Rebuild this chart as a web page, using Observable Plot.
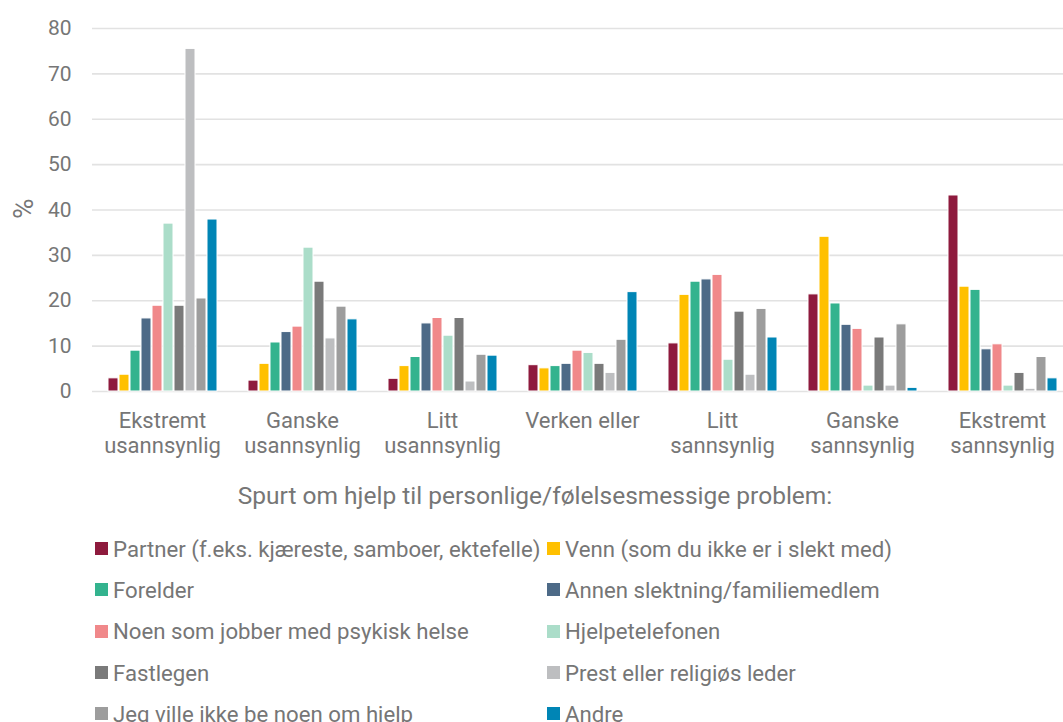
<!DOCTYPE html>
<html lang="no">
<head>
<meta charset="utf-8">
<script src="https://cdn.jsdelivr.net/npm/d3@7"></script>
<script src="https://cdn.jsdelivr.net/npm/@observablehq/plot@0.6"></script>
<style>
  html, body { margin: 0; padding: 0; background: #fff; overflow: hidden; }
  body { width: 1063px; height: 722px; position: relative; font-family: Roboto, "Noto Sans", sans-serif; color: #767676; }
  #chart { position: absolute; left: 0; top: 0; }
  #chart svg { max-width: none !important; }
  #title { position: absolute; left: 0; width: 1070px; top: 481px; text-align: center; font-size: 24.5px; }
  #legend { position: absolute; left: 95px; top: 528px; display: grid; grid-template-columns: 452px 500px; grid-auto-rows: 41.3px; font-size: 22.2px; }
  .item { display: flex; align-items: center; white-space: nowrap; height: 41.3px; }
  .sw { width: 13px; height: 13px; margin-right: 5px; flex: none; }
</style>
</head>
<body>
<div id="chart"></div>
<div id="title">Spurt om hjelp til personlige/følelsesmessige problem:</div>
<div id="legend"></div>
<script>
// Answer categories along the x axis (line breaks as shown under each group)
const groups = [
  "Ekstremt\nusannsynlig",
  "Ganske\nusannsynlig",
  "Litt\nusannsynlig",
  "Verken eller",
  "Litt\nsannsynlig",
  "Ganske\nsannsynlig",
  "Ekstremt\nsannsynlig"
];

// Who the respondent would ask for help
const series = [
  "Partner (f.eks. kjæreste, samboer, ektefelle)",
  "Venn (som du ikke er i slekt med)",
  "Forelder",
  "Annen slektning/familiemedlem",
  "Noen som jobber med psykisk helse",
  "Hjelpetelefonen",
  "Fastlegen",
  "Prest eller religiøs leder",
  "Jeg ville ikke be noen om hjelp",
  "Andre"
];

const colors = [
  "#8e1a3d", "#ffc000", "#33b38e", "#4d6a87", "#f0888a",
  "#abddc9", "#7a7a7a", "#bdbec0", "#9d9d9d", "#0085b5"
];

// Percent per series, one value per answer category
const partner   = [2.9, 2.4, 2.8, 5.8, 10.6, 21.4, 43.2];
const venn      = [3.7, 6.1, 5.6, 5.1, 21.3, 34.1, 23.1];
const forelder  = [9.0, 10.8, 7.6, 5.6, 24.2, 19.4, 22.4];
const slektning = [16.1, 13.1, 15.0, 6.1, 24.7, 14.7, 9.3];
const psykisk   = [18.9, 14.3, 16.2, 9.0, 25.7, 13.8, 10.4];
const telefon   = [37.0, 31.7, 12.3, 8.5, 7.0, 1.3, 1.3];
const fastlege  = [18.9, 24.2, 16.2, 6.1, 17.6, 11.9, 4.1];
const prest     = [75.5, 11.7, 2.2, 4.1, 3.7, 1.3, 0.6];
const ingen     = [20.5, 18.7, 8.1, 11.4, 18.2, 14.8, 7.6];
const andre     = [37.9, 15.9, 7.9, 21.9, 11.9, 0.8, 2.9];

const yTicks = [0, 10, 20, 30, 40, 50, 60, 70, 80];
const yLabel = "%";

const valuesBySeries = [partner, venn, forelder, slektning, psykisk, telefon, fastlege, prest, ingen, andre];
const rows = [];
series.forEach((s, i) => {
  groups.forEach((g, j) => rows.push({group: g, series: s, value: valuesBySeries[i][j]}));
});

const textColor = "#767676";

const chart = Plot.plot({
  width: 1074,
  height: 470,
  marginLeft: 90,
  marginRight: 0,
  marginTop: 28,
  marginBottom: 79,
  style: {fontFamily: "Roboto, 'Noto Sans', sans-serif", color: textColor, background: "white"},
  fx: {domain: groups, padding: 0, label: null},
  x: {domain: series, paddingInner: 0.1, paddingOuter: 0.9, axis: null},
  y: {domain: [0, 80], label: null},
  color: {domain: series, range: colors},
  marks: [
    Plot.ruleY(yTicks, {stroke: "#e2e2e2", strokeWidth: 1.6}),
    Plot.barY(rows, {fx: "group", x: "series", y: "value", fill: "series", stroke: "white", strokeWidth: 1}),
    Plot.axisY({ticks: yTicks, tickSize: 0, tickPadding: 21, fontSize: 21, label: null}),
    // rotated unit label, left of the first group only
    Plot.text([groups[0]], {
      fx: (d) => d, text: () => yLabel, frameAnchor: "left", dx: -68, dy: 9,
      rotate: -90, fontSize: 28, fill: textColor
    }),
    Plot.axisFx({
      anchor: "bottom", tickSize: 0, tickPadding: 19, fontSize: 22, lineHeight: 1.14, label: null
    })
  ]
});
document.getElementById("chart").append(chart);

// Two-column legend below the chart
const legend = document.getElementById("legend");
series.forEach((s, i) => {
  const item = document.createElement("div");
  item.className = "item";
  const sw = document.createElement("span");
  sw.className = "sw";
  sw.style.background = colors[i];
  const label = document.createElement("span");
  label.textContent = s;
  item.append(sw, label);
  legend.append(item);
});
</script>
</body>
</html>
